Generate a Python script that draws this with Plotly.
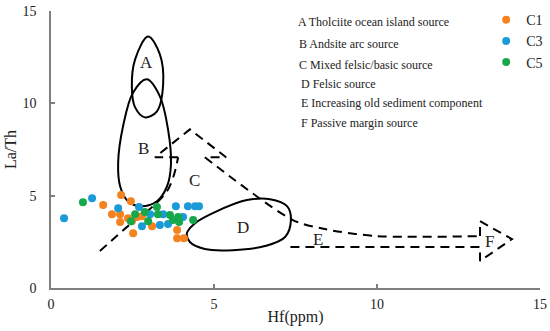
import plotly.graph_objects as go

# ---- sample data (Hf ppm, La/Th) ----
c1_hf = [1.60, 2.15, 2.45, 1.87, 2.12, 2.36, 2.12, 2.52, 2.79, 3.10, 3.87, 3.87, 4.08, 2.64, 2.48]
c1_lath = [4.49, 5.03, 4.70, 4.00, 4.00, 3.78, 3.57, 2.97, 3.89, 3.35, 3.14, 2.70, 2.70, 3.84, 3.62]

c3_hf = [0.40, 1.26, 2.06, 2.70, 2.79, 3.04, 3.44, 3.34, 3.83, 4.20, 4.42, 4.54, 4.05, 3.59]
c3_lath = [3.78, 4.86, 4.32, 4.38, 3.35, 4.00, 4.00, 3.41, 4.43, 4.43, 4.43, 4.43, 3.84, 3.46]

c5_hf = [0.98, 2.58, 2.45, 2.88, 2.98, 3.25, 3.28, 3.65, 3.74, 3.90, 3.93, 4.36]
c5_lath = [4.65, 4.00, 3.62, 4.11, 3.62, 4.38, 4.00, 3.95, 3.68, 3.84, 3.57, 3.68]

# ---- discrimination field outlines (Hf, La/Th) ----
field_a_hf = [2.98, 2.58, 2.48, 2.58, 2.88, 3.25, 3.44, 3.34]
field_a_lath = [13.62, 12.38, 10.86, 9.78, 9.24, 9.57, 11.03, 12.65]

field_b_hf = [2.94, 2.52, 2.21, 2.06, 2.12, 2.36, 2.73, 3.25, 3.56, 3.68, 3.59, 3.34]
field_b_lath = [11.30, 10.59, 8.76, 6.81, 5.51, 4.70, 4.43, 4.70, 5.51, 6.70, 8.59, 10.38]

field_d_hf = [4.17, 4.42, 5.03, 6.01, 6.72, 7.24, 7.36, 7.18, 6.56, 5.58, 4.72, 4.26]
field_d_lath = [2.97, 3.51, 4.11, 4.76, 4.81, 4.43, 3.73, 2.76, 2.27, 2.05, 2.11, 2.49]

c_shaft_hf = [1.50, 2.36, 3.10, 3.56, 3.77, 3.90]
c_shaft_lath = [2.00, 3.35, 4.38, 5.24, 6.11, 7.08]

c_head_hf = [3.90, 3.19, 4.26, 5.37, 4.72]
c_head_lath = [7.08, 7.08, 8.59, 7.08, 7.08]

e_upper_hf = [4.72, 7.42, 8.40, 10.0, 13.16]
e_upper_lath = [7.08, 3.68, 3.19, 2.81, 2.81]

f_head_hf = [13.16, 13.16, 14.14, 13.16, 13.16, 7.33]
f_head_lath = [2.81, 3.62, 2.65, 1.46, 2.22, 2.22]

field_labels = ["A", "B", "C", "D", "E", "F"]
field_label_hf = [2.94, 2.85, 4.39, 5.89, 8.19, 13.44]
field_label_lath = [12.22, 7.57, 5.84, 3.30, 2.65, 2.54]

key_texts = [
    "A Tholciite ocean island source",
    "B Andsite arc source",
    "C Mixed felsic/basic source",
    "D Felsic source",
    "E Increasing old sediment component",
    "F Passive margin source",
]
key_hf = [7.52, 7.55, 7.55, 7.60, 7.60, 7.60]
key_lath = [14.43, 13.24, 12.05, 11.03, 10.0, 8.92]

x_ticks = [0, 5, 10, 15]
y_ticks = [0, 5, 10, 15]

SERIF = "Liberation Serif, Times New Roman, serif"
ORANGE = "#F4821F"
BLUE = "#1A9BD7"
GREEN = "#17A84B"

fig = go.Figure()

def closed(xs, ys):
    return list(xs) + [xs[0]], list(ys) + [ys[0]]

for fx, fy in [(field_a_hf, field_a_lath), (field_b_hf, field_b_lath), (field_d_hf, field_d_lath)]:
    xx, yy = closed(fx, fy)
    fig.add_trace(go.Scatter(x=xx, y=yy, mode="lines", showlegend=False, hoverinfo="skip",
                             line=dict(color="black", width=2, shape="spline", smoothing=1)))

dash = "9px,6px"
fig.add_trace(go.Scatter(x=c_shaft_hf, y=c_shaft_lath, mode="lines", showlegend=False, hoverinfo="skip",
                         line=dict(color="black", width=2, dash=dash, shape="spline", smoothing=0.8)))
fig.add_trace(go.Scatter(x=c_head_hf, y=c_head_lath, mode="lines", showlegend=False, hoverinfo="skip",
                         line=dict(color="black", width=2, dash=dash)))
fig.add_trace(go.Scatter(x=e_upper_hf, y=e_upper_lath, mode="lines", showlegend=False, hoverinfo="skip",
                         line=dict(color="black", width=2, dash=dash, shape="spline", smoothing=0.8)))
fig.add_trace(go.Scatter(x=f_head_hf, y=f_head_lath, mode="lines", showlegend=False, hoverinfo="skip",
                         cliponaxis=False, line=dict(color="black", width=2, dash=dash)))

for name, xs, ys, col in [("C1", c1_hf, c1_lath, ORANGE), ("C3", c3_hf, c3_lath, BLUE), ("C5", c5_hf, c5_lath, GREEN)]:
    fig.add_trace(go.Scatter(x=xs, y=ys, mode="markers", name=name,
                             marker=dict(color=col, size=8, line=dict(width=0))))

for t, x, y in zip(field_labels, field_label_hf, field_label_lath):
    fig.add_annotation(x=x, y=y, text=t, showarrow=False, xanchor="center", yanchor="middle",
                       font=dict(family=SERIF, size=17, color="#222222"))

for t, x, y in zip(key_texts, key_hf, key_lath):
    fig.add_annotation(x=x, y=y, text=t, showarrow=False, xanchor="left", yanchor="middle",
                       font=dict(family=SERIF, size=12, color="#222222"))

axis_common = dict(
    showgrid=False, zeroline=False, showline=True, linecolor="#7f7f7f", linewidth=1.5,
    ticks="inside", ticklen=4, tickwidth=1.5, tickcolor="#7f7f7f",
    tickfont=dict(family=SERIF, size=14, color="#222222"),
)

fig.update_xaxes(range=[0, 15], tickvals=x_ticks, ticklabelstandoff=2, automargin=False,
                 title=dict(text="Hf(ppm)", font=dict(family=SERIF, size=16, color="#222222"), standoff=0),
                 **axis_common)
fig.update_yaxes(range=[0, 15], tickvals=y_ticks, ticklabelstandoff=10, automargin=True,
                 title=dict(text="La/Th", font=dict(family=SERIF, size=16, color="#222222"), standoff=2),
                 **axis_common)

fig.update_layout(
    width=550, height=331,
    margin=dict(l=51, r=10, t=11, b=43, autoexpand=False),
    paper_bgcolor="white", plot_bgcolor="white",
    legend=dict(x=0.89, y=1.025, xanchor="left", yanchor="top", bgcolor="rgba(0,0,0,0)",
                font=dict(family=SERIF, size=14, color="#222222"), tracegroupgap=0, itemwidth=30),
)

fig.write_html("out.html", config={"displayModeBar": False},
               post_script="document.body.style.margin='0';")
